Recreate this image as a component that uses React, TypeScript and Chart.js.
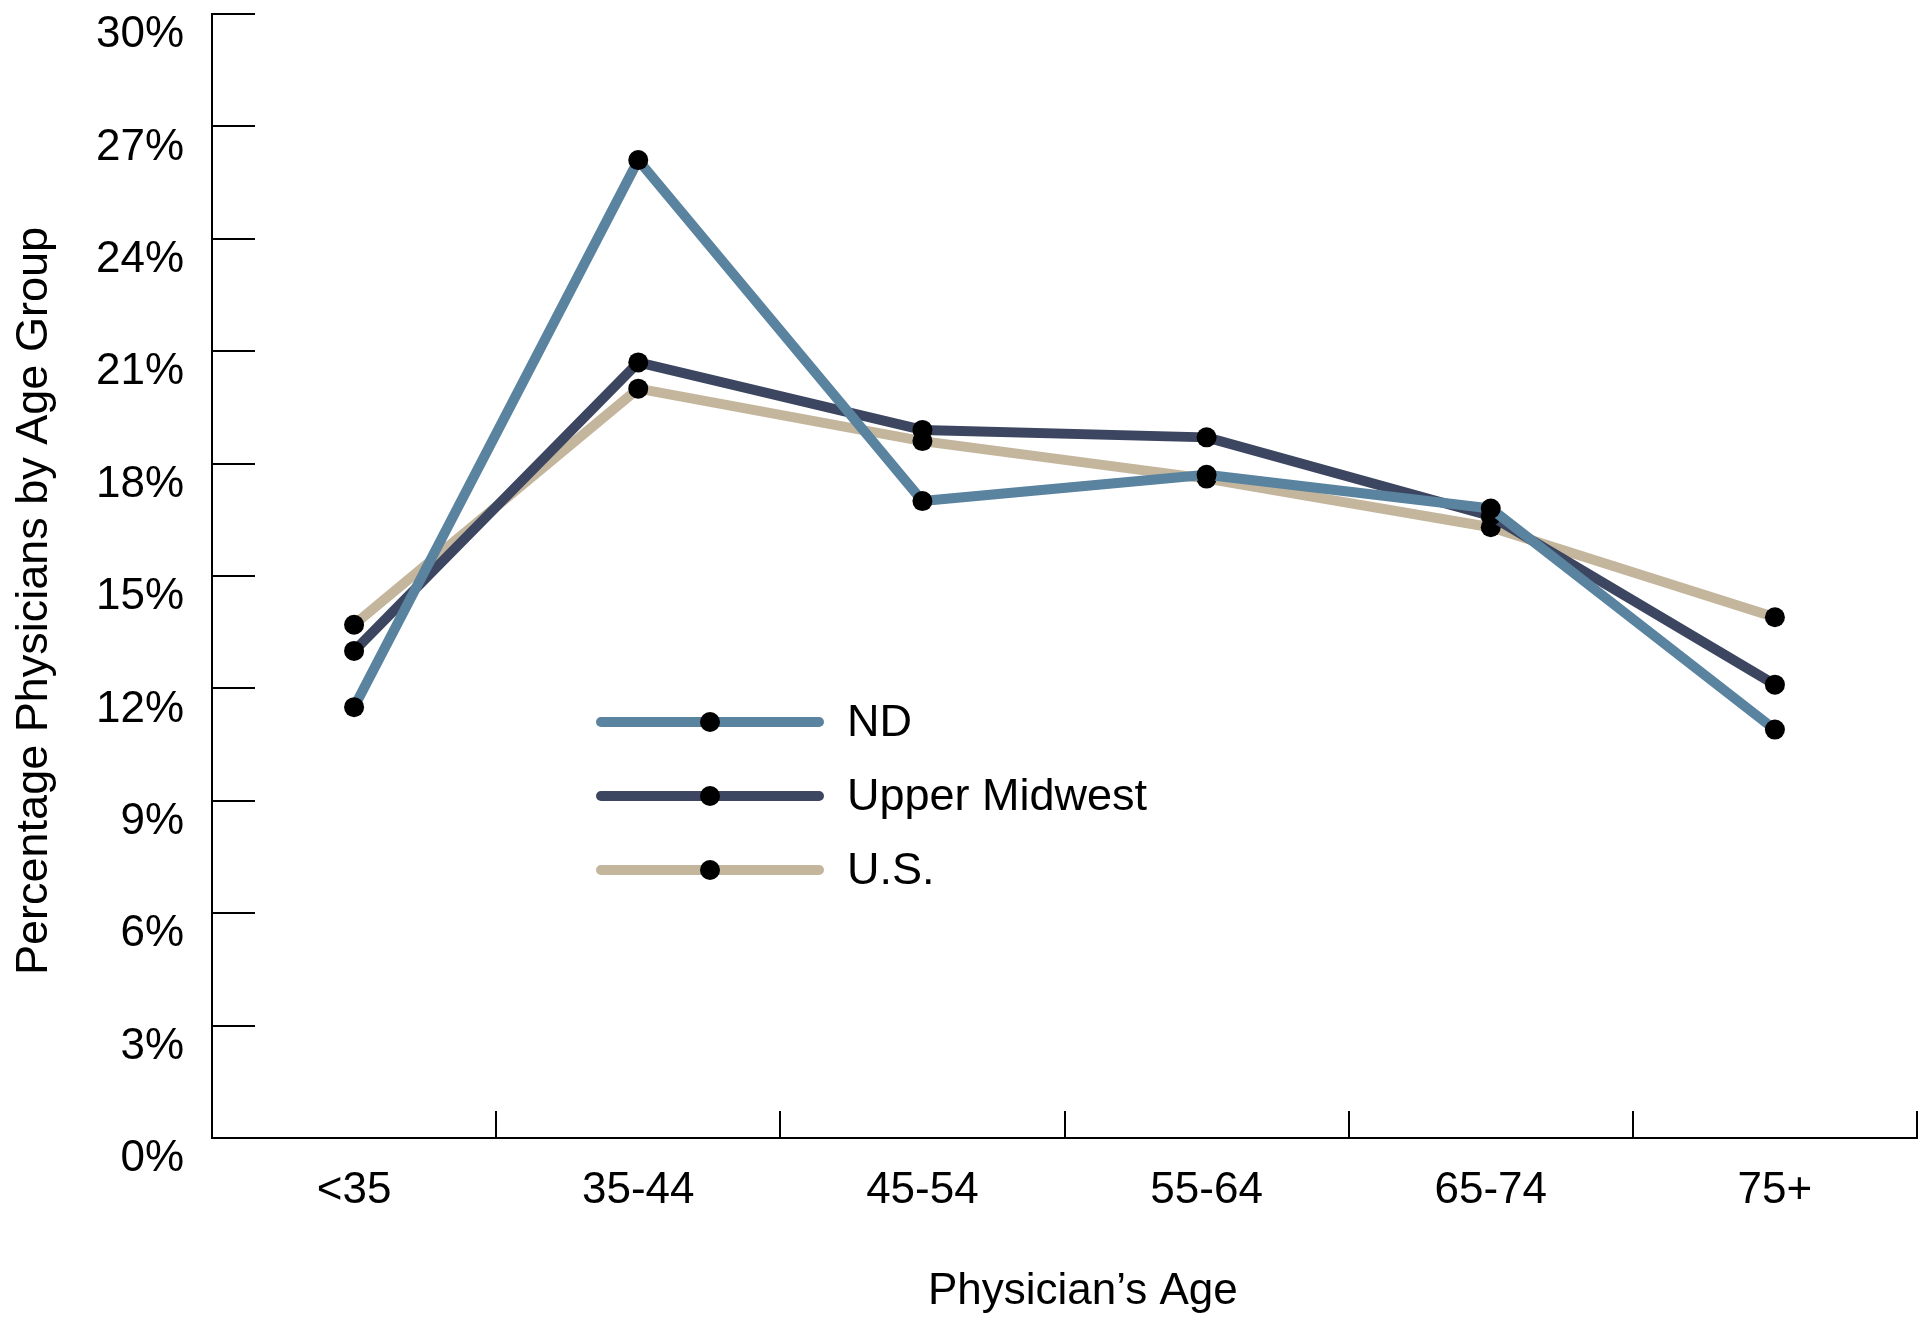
import React, { useEffect, useRef } from 'react';
import { Chart, registerables } from 'chart.js';

Chart.register(...registerables);

const categories = ['<35', '35-44', '45-54', '55-64', '65-74', '75+'];
const ndValues = [11.5, 26.1, 17.0, 17.7, 16.8, 10.9];
const upperMidwestValues = [13.0, 20.7, 18.9, 18.7, 16.6, 12.1];
const usValues = [13.7, 20.0, 18.6, 17.6, 16.3, 13.9];
const seriesLabels = ['ND', 'Upper Midwest', 'U.S.'];
const seriesColors = ['#5a83a0', '#3d4660', '#c4b69c'];
const yAxisTitle = 'Percentage Physicians by Age Group';
const xAxisTitle = 'Physician\u2019s Age';

const FONT = "'Liberation Sans', Arial, Helvetica, sans-serif";
const W = 1922;
const H = 1318;

const legendPlugin = {
  id: 'inlineLegend',
  afterDatasetsDraw(chart: any) {
    const ctx = chart.ctx;
    const rows = [722, 796, 870];
    const x0 = 601;
    const x1 = 819;
    const mx = 710;
    const tx = 847;
    ctx.save();
    chart.data.datasets.forEach((ds: any, i: number) => {
      const y = rows[i];
      ctx.beginPath();
      ctx.lineCap = 'round';
      ctx.lineWidth = 10;
      ctx.strokeStyle = ds.borderColor;
      ctx.moveTo(x0, y);
      ctx.lineTo(x1, y);
      ctx.stroke();
      ctx.beginPath();
      ctx.fillStyle = '#000';
      ctx.arc(mx, y, 10, 0, Math.PI * 2);
      ctx.fill();
      ctx.font = `45px ${FONT}`;
      ctx.textAlign = 'left';
      ctx.textBaseline = 'middle';
      ctx.fillText(ds.label, tx, y + 2);
    });
    ctx.restore();
  },
};

export default function App() {
  const canvasRef = useRef<HTMLCanvasElement | null>(null);

  useEffect(() => {
    if (!canvasRef.current) return;
    const values = [ndValues, upperMidwestValues, usValues];
    const chart = new Chart(canvasRef.current, {
      type: 'line',
      data: {
        labels: categories,
        datasets: seriesLabels.map((label, i) => ({
          label,
          data: values[i],
          borderColor: seriesColors[i],
          backgroundColor: seriesColors[i],
          borderWidth: 10,
          borderJoinStyle: 'round' as const,
          pointRadius: 10,
          pointHoverRadius: 10,
          pointBorderWidth: 0,
          pointBackgroundColor: '#000',
          pointBorderColor: '#000',
          tension: 0,
          fill: false,
        })),
      },
      options: {
        responsive: false,
        animation: false,
        devicePixelRatio: 1,
        layout: { autoPadding: false, padding: { top: 14, right: 5, bottom: 0, left: 0 } },
        plugins: {
          legend: { display: false },
          tooltip: { enabled: false },
          title: { display: false },
        },
        scales: {
          x: {
            type: 'category',
            offset: true,
            afterFit: (scale: any) => {
              scale.height = 180;
              scale.paddingLeft = 0;
              scale.paddingRight = 0;
            },
            grid: {
              display: true,
              offset: true,
              drawOnChartArea: false,
              drawTicks: true,
              tickLength: -27,
              color: '#000',
              lineWidth: 2,
            },
            border: { display: true, color: '#000', width: 2 },
            ticks: {
              color: '#000',
              font: { family: FONT, size: 44 },
              padding: 53,
              maxRotation: 0,
              autoSkip: false,
            },
            title: {
              display: true,
              text: '   ' + xAxisTitle,
              color: '#000',
              font: { family: FONT, size: 44 },
              padding: { top: 0, bottom: 0 },
            },
          },
          y: {
            min: 0,
            max: 30,
            afterFit: (scale: any) => {
              scale.width = 212;
              scale.paddingTop = 0;
              scale.paddingBottom = 0;
            },
            grid: {
              display: true,
              drawOnChartArea: false,
              drawTicks: true,
              tickLength: -43,
              color: '#000',
              lineWidth: 2,
            },
            border: { display: true, color: '#000', width: 2 },
            ticks: {
              stepSize: 3,
              color: '#000',
              font: { family: FONT, size: 44 },
              padding: 71,
              labelOffset: 21,
              callback: (v: any) => `${v}%`,
            },
            title: {
              display: true,
              text: yAxisTitle + '    ',
              color: '#000',
              font: { family: FONT, size: 45 },
              padding: { top: 8, bottom: 0 },
            },
          },
        },
      },
      plugins: [legendPlugin],
    });
    return () => chart.destroy();
  }, []);

  return (
    <div style={{ position: 'fixed', left: 0, top: 0, width: W, height: H, background: '#fff' }}>
      <canvas ref={canvasRef} width={W} height={H} style={{ display: 'block', width: W, height: H }} />
    </div>
  );
}
